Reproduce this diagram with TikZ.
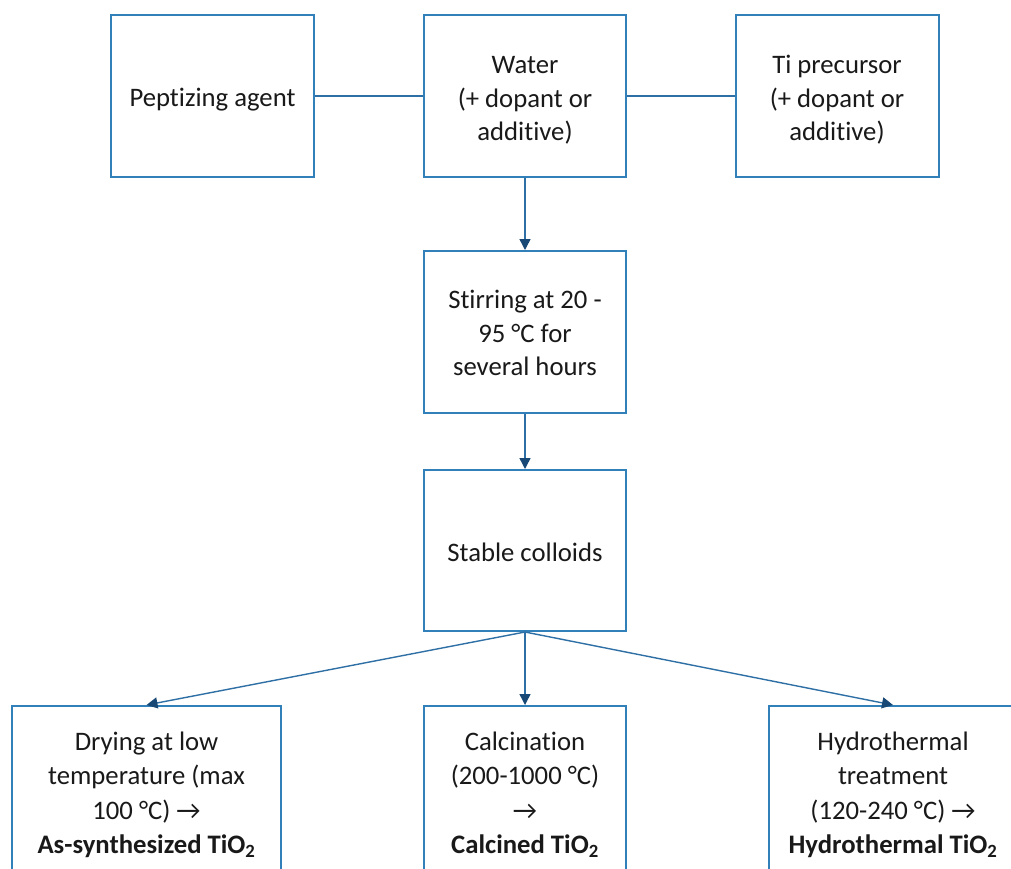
\documentclass[tikz,border=0pt]{standalone}
\usepackage{fontspec}
\setmainfont{Carlito}[Ligatures={NoCommon}]
\usetikzlibrary{arrows.meta}
\definecolor{boxblue}{RGB}{50,128,186}
\definecolor{linkblue}{RGB}{46,112,165}
\definecolor{headblue}{RGB}{24,72,118}
\newcommand{\toplift}[1]{\rule{0pt}{#1}}
\tikzset{
  procbox/.style={draw=boxblue, line width=2pt, fill=white, inner sep=0pt, align=center,
    font=\fontsize{26.7}{33.5}\selectfont, text=black!90},
  lowbox/.style={procbox, font=\fontsize{26.7}{34.5}\selectfont},
  link/.style={draw=linkblue, line width=1.4pt},
  flow/.style={link, -{Triangle[length=11pt,width=11pt,fill=headblue,color=headblue]}}
}
\begin{document}
\begin{tikzpicture}[x=1pt,y=-1pt]
\useasboundingbox (0,0) rectangle (1011,868);
\clip (0,0) rectangle (1011,868);
\node[procbox, minimum width=203pt, minimum height=162pt] (pep) at (212.5,96) {\toplift{26pt}Peptizing agent};
\node[procbox, minimum width=202pt, minimum height=162pt] (wat) at (525,96) {\toplift{26pt}Water\\(+ dopant or\\addit\kern0pt ive)};
\node[procbox, minimum width=203pt, minimum height=162pt] (ti) at (837,96) {\toplift{26pt}Ti precursor\\(+ dopant or\\addit\kern0pt ive)};
\node[procbox, minimum width=202pt, minimum height=162pt] (stir) at (525,332) {\toplift{21pt}Stirring at 20 -\\95 °C for\\several hours};
\node[procbox, minimum width=202pt, minimum height=161pt] (col) at (525,550.5) {\toplift{23pt}Stable colloids};
\node[lowbox, minimum width=269pt, minimum height=172pt] (dry) at (146.5,792) {\toplift{24pt}Drying at low\\temperature (max\\100 °C) →\\\textbf{As-synthesized TiO\textsubscript{2}}};
\node[lowbox, minimum width=202pt, minimum height=172pt] (cal) at (525,792) {\toplift{24pt}Calcinat\kern0pt ion\\(200-1000 °C)\\→\\\textbf{Calcined TiO\textsubscript{2}}};
\node[lowbox, minimum width=248pt, minimum height=172pt] (hyd) at (893,792) {\toplift{24pt}Hydrothermal\\treatment\\(120-240 °C) →\\\textbf{Hydrothermal TiO\textsubscript{2}}};
\draw[link] (pep.east) -- (wat.west);
\draw[link] (wat.east) -- (ti.west);
\draw[flow] (wat.south) -- (stir.north);
\draw[flow] (stir.south) -- (col.north);
\draw[flow] (col.south) -- (dry.north);
\draw[flow] (col.south) -- (cal.north);
\draw[flow] (col.south) -- (hyd.north);
\end{tikzpicture}
\end{document}
